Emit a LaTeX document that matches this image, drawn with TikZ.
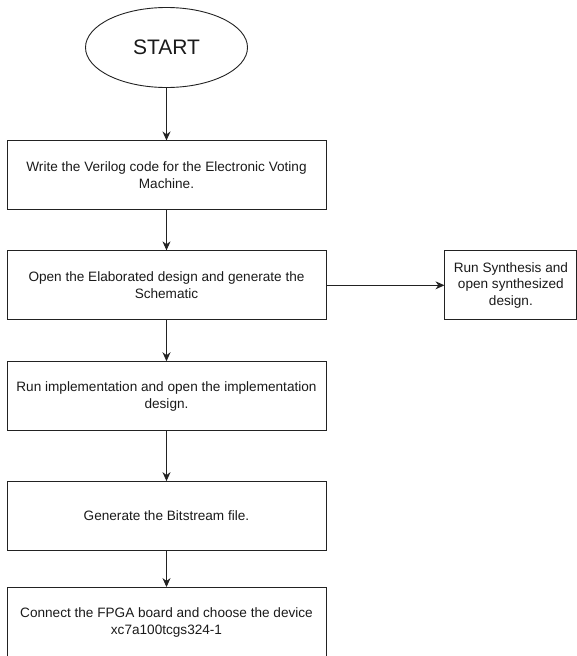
\documentclass[tikz,border=0pt]{standalone}
\usepackage{fontspec}
\setmainfont{Liberation Sans}
\usetikzlibrary{arrows.meta,positioning,shapes.geometric}
\definecolor{lineclr}{HTML}{222222}
\definecolor{textclr}{HTML}{1A1A1A}

\begin{document}
\begin{tikzpicture}[
    x=1pt, y=1pt,
    node distance=41pt and 118pt,
    startnode/.style={draw=lineclr, line width=0.9pt, ellipse, minimum width=162pt, minimum height=80pt, font=\fontsize{21}{25}\selectfont, text=textclr},
    block/.style={draw=lineclr, line width=0.9pt, minimum width=319pt, minimum height=69pt, align=center, font=\fontsize{13.6}{17}\selectfont, text=textclr},
    sideblock/.style={draw=lineclr, line width=0.9pt, minimum width=132pt, minimum height=69pt, align=center, font=\fontsize{13.6}{16.5}\selectfont, text=textclr},
    arrow/.style={-{Stealth[length=9pt, width=8pt]}, line width=0.9pt, color=lineclr},
]
\useasboundingbox (0,0) rectangle (577,-656);

% --- Main flow ---
\node[startnode] (start) at (166.5,-47.5) {START};
\node[block, below=52.5pt of start] (verilog) {Write the Verilog code for the Electronic Voting\\Machine.};
\node[block, below=40pt of verilog] (elab) {Open the Elaborated design and generate the\\Schematic};
\node[block, below=41pt of elab] (impl) {Run implementation and open the implementation\\design.};
\node[block, below=50pt of impl] (bits) {Generate the Bitstream file.};
\node[block, below=36pt of bits] (fpga) {Connect the FPGA board and choose the device\\xc7a100tcgs324-1};

% --- Side step ---
\node[sideblock, right=118pt of elab] (synth) {Run Synthesis and\\open synthesized\\design.};

% --- Arrows ---
\draw[arrow] (start) -- (verilog);
\draw[arrow] (verilog) -- (elab);
\draw[arrow] (elab) -- (impl);
\draw[arrow] (impl) -- (bits);
\draw[arrow] (bits) -- (fpga);
\draw[arrow] (elab) -- (synth);

\end{tikzpicture}
\end{document}
